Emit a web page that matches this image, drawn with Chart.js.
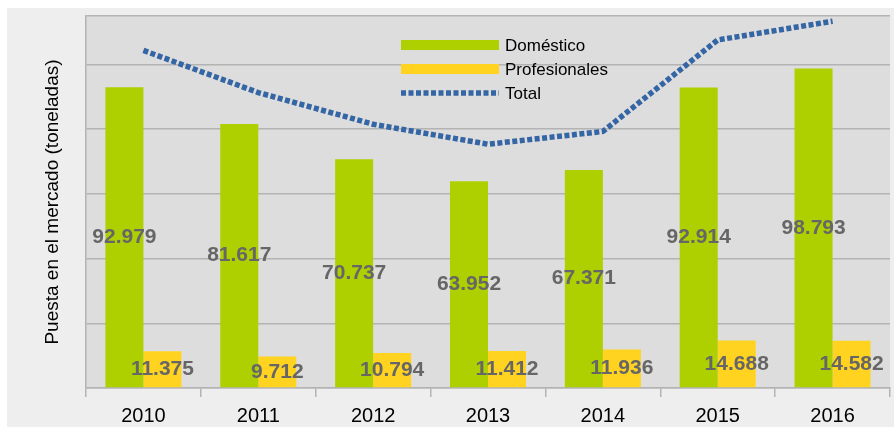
<!DOCTYPE html>
<html>
<head>
<meta charset="utf-8">
<script src="https://cdn.jsdelivr.net/npm/chart.js@4"></script>
<style>
  html, body { margin: 0; padding: 0; background: #fff; }
  #wrap { position: absolute; left: 7px; top: 8px; width: 887px; height: 419px; background: #eeeeee; }
</style>
</head>
<body>
<div id="wrap"><canvas id="myChart" width="887" height="419"></canvas></div>
<script>
// --------------------------------------------------
const years = ["2010", "2011", "2012", "2013", "2014", "2015", "2016"];
const domestico = [92979, 81617, 70737, 63952, 67371, 92914, 98793];
const profesionales = [11375, 9712, 10794, 11412, 11936, 14688, 14582];
const total = [104354, 91329, 81531, 75364, 79307, 107602, 113375];
const yTicks = [0, 20000, 40000, 60000, 80000, 100000, 115000];

const GREEN = "#aecf00";
const YELLOW = "#ffd320";
const BLUE = "#3465a4";
const GRID = "#b3b3b3";
const FONT = "'Liberation Sans', Arial, sans-serif";

function fmt(v) {
  return Math.floor(v / 1000) + "." + String(v % 1000).padStart(3, "0");
}

// plot background
const plotBg = {
  id: "plotBg",
  beforeDraw(chart) {
    const { ctx, chartArea: a } = chart;
    ctx.save();
    ctx.fillStyle = "#dddddd";
    ctx.fillRect(a.left, a.top, a.right - a.left, a.bottom - a.top);
    ctx.restore();
  },
};

// value labels in the middle of each bar
const barLabels = {
  id: "barLabels",
  afterDatasetsDraw(chart) {
    const ctx = chart.ctx;
    ctx.save();
    ctx.font = "bold 21px " + FONT;
    ctx.fillStyle = "#666666";
    ctx.textAlign = "center";
    ctx.textBaseline = "middle";
    [0, 1].forEach((i) => {
      const meta = chart.getDatasetMeta(i);
      meta.data.forEach((bar, j) => {
        const v = chart.data.datasets[i].data[j];
        ctx.fillText(fmt(v), bar.x, (bar.y + bar.base) / 2);
      });
    });
    ctx.restore();
  },
};

// legend drawn inside the plot
const innerLegend = {
  id: "innerLegend",
  afterDraw(chart) {
    const { ctx, chartArea: a } = chart;
    const x0 = a.left + 315;
    const w = 98;
    const ys = [a.top + 29, a.top + 53, a.top + 77];
    ctx.save();
    chart.data.datasets.forEach((ds, i) => {
      const y = ys[i];
      if (ds.type === "line") {
        ctx.strokeStyle = ds.borderColor;
        ctx.lineWidth = ds.borderWidth;
        ctx.setLineDash(ds.borderDash);
        ctx.beginPath();
        ctx.moveTo(x0, y);
        ctx.lineTo(x0 + w, y);
        ctx.stroke();
        ctx.setLineDash([]);
      } else {
        ctx.fillStyle = ds.backgroundColor;
        ctx.fillRect(x0, y - 5, w, 10);
      }
      ctx.fillStyle = "#000";
      ctx.font = "17px " + FONT;
      ctx.textAlign = "left";
      ctx.textBaseline = "middle";
      ctx.fillText(ds.label, x0 + w + 6, y + 1);
    });
    ctx.restore();
  },
};

var ctx = document.getElementById("myChart").getContext("2d");
var myChart = new Chart(ctx, {
  data: {
    labels: years,
    datasets: [
      {
        type: "bar",
        label: "Doméstico",
        data: domestico,
        backgroundColor: GREEN,
        order: 2,
      },
      {
        type: "bar",
        label: "Profesionales",
        data: profesionales,
        backgroundColor: YELLOW,
        order: 2,
      },
      {
        type: "line",
        label: "Total",
        data: total,
        borderColor: BLUE,
        borderWidth: 5.5,
        borderDash: [5, 2.5],
        pointRadius: 0,
        tension: 0,
        fill: false,
        order: 1,
      },
    ],
  },
  options: {
    responsive: false,
    animation: false,
    layout: { padding: { top: 8, right: 4, left: 0, bottom: 0 } },
    datasets: {
      bar: { categoryPercentage: 0.662, barPercentage: 1 },
    },
    plugins: {
      legend: { display: false },
      tooltip: { enabled: false },
    },
    scales: {
      x: {
        offset: true,
        grid: {
          offset: true,
          drawOnChartArea: false,
          drawTicks: true,
          tickLength: 9,
          color: GRID,
          lineWidth: 1.5,
        },
        border: { display: true, color: GRID, width: 1.5 },
        ticks: {
          color: "#000",
          font: { family: FONT, size: 20 },
          padding: 7,
        },
        afterFit(scale) {
          scale.height = 39;
        },
      },
      y: {
        min: 0,
        max: 115000,
        ticks: { display: false },
        afterBuildTicks(scale) {
          scale.ticks = yTicks.map((v) => ({ value: v }));
        },
        grid: { color: GRID, lineWidth: 1.5, drawTicks: false },
        border: { display: true, color: GRID, width: 1.5 },
        title: {
          display: true,
          text: "Puesta en el mercado (toneladas)",
          color: "#000",
          font: { family: FONT, size: 19 },
          padding: { top: 34, bottom: 0 },
        },
        afterFit(scale) {
          scale.width = 79;
        },
      },
    },
  },
  plugins: [plotBg, barLabels, innerLegend],
});
</script>
</body>
</html>
